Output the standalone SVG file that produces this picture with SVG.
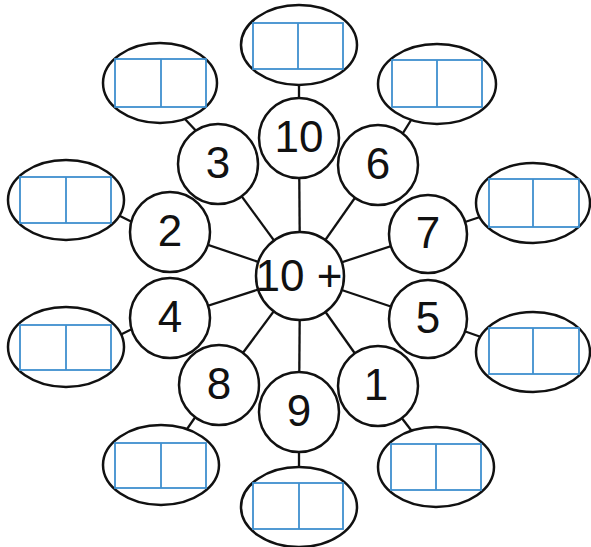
<svg xmlns="http://www.w3.org/2000/svg" width="591" height="547" viewBox="0 0 591 547">
<style>
.c{fill:#fff;stroke:#111;stroke-width:2.5}
.e{fill:#fff;stroke:#111;stroke-width:2.5}
.b{fill:none;stroke:#3f8fcf;stroke-width:1.8}
.l{stroke:#111;stroke-width:2.3;fill:none}
.t{font-family:"Liberation Sans",Arial,sans-serif;font-size:44px;fill:#111;text-anchor:middle}
</style>
<rect width="591" height="547" fill="#fff"/>
<g id="connectors">
<line class="l" x1="300" y1="276" x2="299" y2="138"/>
<line class="l" x1="300" y1="276" x2="218" y2="164"/>
<line class="l" x1="300" y1="276" x2="378" y2="165"/>
<line class="l" x1="300" y1="276" x2="170" y2="232"/>
<line class="l" x1="300" y1="276" x2="170" y2="318"/>
<line class="l" x1="300" y1="276" x2="428" y2="234"/>
<line class="l" x1="300" y1="276" x2="428" y2="319"/>
<line class="l" x1="300" y1="276" x2="219" y2="385"/>
<line class="l" x1="300" y1="276" x2="299" y2="412"/>
<line class="l" x1="300" y1="276" x2="378" y2="386"/>
<line class="l" x1="299" y1="82" x2="299" y2="101"/>
<line class="l" x1="184" y1="118" x2="199" y2="134"/>
<line class="l" x1="403" y1="133" x2="413" y2="117"/>
<line class="l" x1="118" y1="215" x2="134" y2="223"/>
<line class="l" x1="120" y1="335" x2="134" y2="328"/>
<line class="l" x1="465" y1="222" x2="480" y2="217"/>
<line class="l" x1="464" y1="331" x2="481" y2="337"/>
<line class="l" x1="196" y1="416" x2="185" y2="432"/>
<line class="l" x1="299" y1="450" x2="299" y2="469"/>
<line class="l" x1="401" y1="417" x2="414" y2="434"/>
</g>
<g id="center"><circle class="c" cx="300" cy="276" r="44"/><text class="t" x="299" y="291">10 +</text></g>
<g id="n10"><circle class="c" cx="299" cy="138" r="40"/><text class="t" x="299" y="152">10</text></g>
<g id="n3"><circle class="c" cx="218" cy="164" r="40"/><text class="t" x="218" y="178">3</text></g>
<g id="n6"><circle class="c" cx="378" cy="165" r="40"/><text class="t" x="378" y="179">6</text></g>
<g id="n2"><circle class="c" cx="170" cy="232" r="40"/><text class="t" x="170" y="246">2</text></g>
<g id="n4"><circle class="c" cx="170" cy="318" r="40"/><text class="t" x="170" y="332">4</text></g>
<g id="n7"><circle class="c" cx="428" cy="234" r="39"/><text class="t" x="428" y="248">7</text></g>
<g id="n5"><circle class="c" cx="428" cy="319" r="39"/><text class="t" x="428" y="333">5</text></g>
<g id="n8"><circle class="c" cx="219" cy="385" r="40"/><text class="t" x="219" y="399">8</text></g>
<g id="n9"><circle class="c" cx="299" cy="412" r="40"/><text class="t" x="299" y="426">9</text></g>
<g id="n1"><circle class="c" cx="378" cy="386" r="40"/><text class="t" x="376" y="400">1</text></g>
<g id="a10"><ellipse class="e" cx="299" cy="45" rx="58" ry="40"/><rect class="b" x="253" y="23" width="90" height="46"/><line class="b" x1="298" y1="23" x2="298" y2="69"/></g>
<g id="a3"><ellipse class="e" cx="160" cy="83" rx="57" ry="40"/><rect class="b" x="115" y="59" width="91" height="48"/><line class="b" x1="161" y1="59" x2="161" y2="107"/></g>
<g id="a6"><ellipse class="e" cx="437" cy="84" rx="59" ry="40"/><rect class="b" x="392" y="60" width="90" height="47"/><line class="b" x1="437" y1="60" x2="437" y2="107"/></g>
<g id="a2"><ellipse class="e" cx="66" cy="200" rx="58" ry="40"/><rect class="b" x="20" y="177" width="91" height="46"/><line class="b" x1="66" y1="177" x2="66" y2="223"/></g>
<g id="a4"><ellipse class="e" cx="66" cy="347" rx="58" ry="40"/><rect class="b" x="20" y="325" width="91" height="45"/><line class="b" x1="66" y1="325" x2="66" y2="370"/></g>
<g id="a7"><ellipse class="e" cx="533" cy="203" rx="57" ry="40"/><rect class="b" x="489" y="179" width="90" height="48"/><line class="b" x1="533" y1="179" x2="533" y2="227"/></g>
<g id="a5"><ellipse class="e" cx="533" cy="352" rx="57" ry="40"/><rect class="b" x="489" y="328" width="90" height="46"/><line class="b" x1="533" y1="328" x2="533" y2="374"/></g>
<g id="a8"><ellipse class="e" cx="161" cy="465" rx="58" ry="40"/><rect class="b" x="115" y="443" width="91" height="45"/><line class="b" x1="161" y1="443" x2="161" y2="488"/></g>
<g id="a9"><ellipse class="e" cx="299" cy="507" rx="58" ry="40"/><rect class="b" x="253" y="483" width="90" height="46"/><line class="b" x1="299" y1="483" x2="299" y2="529"/></g>
<g id="a1"><ellipse class="e" cx="436" cy="467" rx="58" ry="40"/><rect class="b" x="391" y="444" width="90" height="46"/><line class="b" x1="436" y1="444" x2="436" y2="490"/></g>
</svg>
